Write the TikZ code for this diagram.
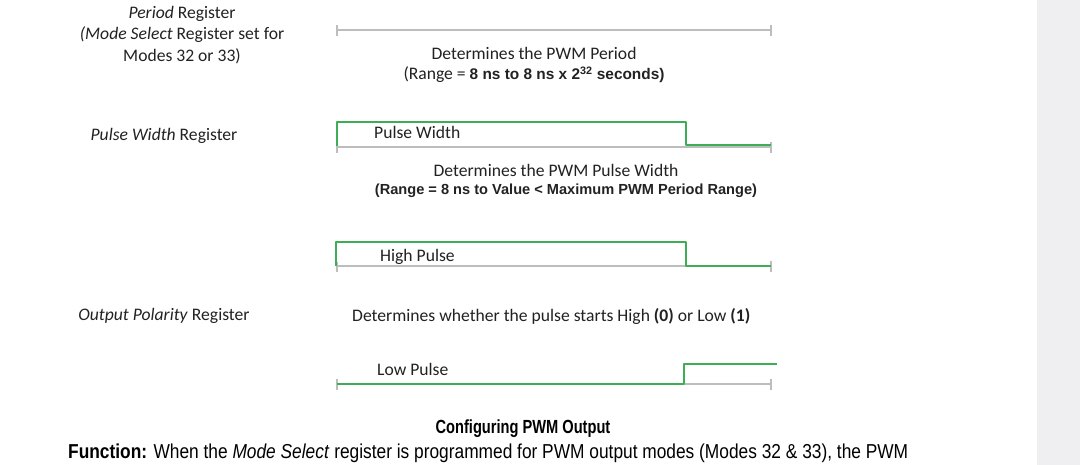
\documentclass[tikz,border=0pt]{standalone}
\usepackage{fontspec}
\usetikzlibrary{calc}
\setmainfont{Carlito}
\newfontfamily\arialn[FakeStretch=0.86]{Liberation Sans}
\newfontfamily\arialnn[FakeStretch=0.77]{Liberation Sans}
\newfontfamily\arial{Liberation Sans}
\definecolor{sig}{HTML}{3DAE55}
\definecolor{axis}{HTML}{BDBDBD}
\definecolor{panel}{HTML}{EFEFF2}
\definecolor{txt}{HTML}{222222}
\begin{document}
\begin{tikzpicture}[x=1pt,y=-1pt,
  lbl/.style={font=\fontsize{17.6}{21.5}\selectfont, text=txt, inner sep=0pt, anchor=center},
  axisline/.style={draw=axis, line width=1.4pt},
  wave/.style={draw=sig, line width=2.2pt, line join=round},
  tick/.style={draw=axis, line width=1.4pt}]
\useasboundingbox (0,0) rectangle (1080,465);
\fill[white] (0,0) rectangle (1080,465);
\fill[panel] (1037,0) rectangle (1080,465);

% left labels
\node[lbl, align=center] (preg) at (182,35) {\textit{Period} Register\\\textit{(Mode Select} Register set for\\Modes 32 or 33)};
\node[lbl] (pwreg) at (164,136) {\textit{Pulse Width} Register};
\node[lbl] (opreg) at (164,316) {\textit{Output Polarity} Register};

% period axis
\coordinate (pA) at (337,30); \coordinate (pB) at (771,30);
\draw[axisline] (pA) -- (pB);
\draw[tick] ($(pA)+(0,-5)$) -- ($(pA)+(0,6)$);
\draw[tick] ($(pB)+(0,-5)$) -- ($(pB)+(0,6)$);
\node[lbl] (pdet) at (534,53) {Determines the PWM Period};
\node[lbl] (prange) at (534,75) {(Range = {\arial\bfseries\fontsize{15.4}{18}\selectfont 8 ns to 8 ns x 2\textsuperscript{32} seconds)}};

% pulse width
\coordinate (wA) at (337,147); \coordinate (wB) at (771,147);
\draw[axisline] (wA) -- (wB);
\draw[tick] ($(wA)+(0,-5)$) -- ($(wA)+(0,6)$);
\draw[tick] ($(wB)+(0,-5)$) -- ($(wB)+(0,6)$);
\coordinate (w1) at (337,122); \coordinate (w2) at (686,122);
\coordinate (w3) at (686,145); \coordinate (w4) at (771,145);
\draw[wave] (337,146) -- (w1) -- (w2) -- (w3) -- (w4);
\node[lbl, anchor=west] (pwtxt) at (374,132) {Pulse Width};
\node[lbl] (pwdet) at (556,170) {Determines the PWM Pulse Width};
\node[lbl, font=\arial\bfseries\fontsize{14.6}{18}\selectfont] (pwrange) at (566,191) {(Range = 8 ns to Value < Maximum PWM Period Range)};

% high pulse
\coordinate (hA) at (337,266); \coordinate (hB) at (771,266);
\draw[axisline] (hA) -- (hB);
\draw[tick] ($(hA)+(0,-4)$) -- ($(hA)+(0,6)$);
\draw[tick] ($(hB)+(0,-5)$) -- ($(hB)+(0,6)$);
\coordinate (h1) at (336,242); \coordinate (h2) at (686,242);
\coordinate (h3) at (686,266); \coordinate (h4) at (771,266);
\draw[wave] (336,266) -- (h1) -- (h2) -- (h3) -- (h4);
\node[lbl, anchor=west] (hptxt) at (380,257) {High Pulse};

\node[lbl, anchor=west] (opdet) at (352,316) {Determines whether the pulse starts High \textbf{(0)} or Low \textbf{(1)}};

% low pulse
\coordinate (lA) at (337,384); \coordinate (lB) at (771,384);
\draw[axisline] (lA) -- (lB);
\draw[tick] ($(lA)+(0,-5)$) -- ($(lA)+(0,6)$);
\draw[tick] ($(lB)+(0,-5)$) -- ($(lB)+(0,6)$);
\coordinate (l1) at (684,384); \coordinate (l2) at (684,364);
\coordinate (l3) at (777,364);
\draw[wave] (lA) -- (l1) -- (l2) -- (l3);
\node[lbl, anchor=west] (lptxt) at (377,369) {Low Pulse};

% caption
\node[lbl, font=\arialnn\bfseries\fontsize{19}{22}\selectfont, text=black] (cap) at (523,429) {Configuring PWM Output};
\node[lbl, anchor=west, font=\arialn\fontsize{20.15}{24}\selectfont, text=black] (func) at (68,453) {\textbf{Function:} When the \textit{Mode Select} register is programmed for PWM output modes (Modes 32 \& 33), the PWM};
\end{tikzpicture}
\end{document}
